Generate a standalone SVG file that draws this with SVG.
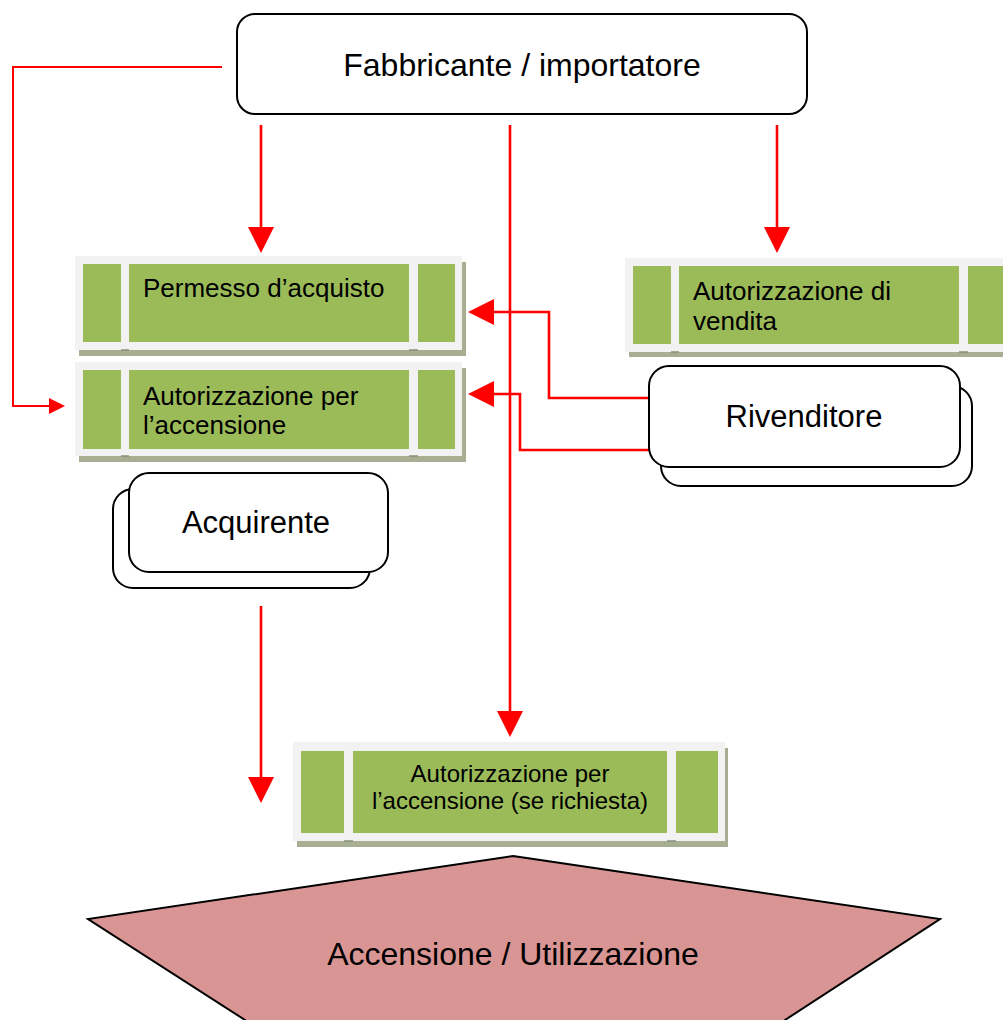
<svg xmlns="http://www.w3.org/2000/svg" width="1003" height="1020" viewBox="0 0 1003 1020">
<style>
.frame{fill:#f2f2f2;}
.shadow{fill:#a8ae91;}
.seg{fill:#9bbb59;}
.tick{stroke:#8a8f78;stroke-width:1.5;}
.rbox{fill:#ffffff;stroke:#000000;stroke-width:2;}
.conn{fill:none;stroke:#ff0000;stroke-width:2.6;}
.t{font-family:"Liberation Sans",Arial,sans-serif;fill:#000000;}
</style>
<defs>
<marker id="ah" markerUnits="userSpaceOnUse" markerWidth="26" markerHeight="26" viewBox="0 0 26 26" refX="16" refY="13" orient="auto">
<path d="M0,0 L26,13 L0,26 Z" fill="#ff0000"/>
</marker>
<marker id="ahs" markerUnits="userSpaceOnUse" markerWidth="16" markerHeight="16" viewBox="0 0 16 16" refX="10" refY="8" orient="auto">
<path d="M0,0 L16,8 L0,16 Z" fill="#ff0000"/>
</marker>
</defs>
<rect width="1003" height="1020" fill="#ffffff"/>

<g id="connectors">
<path class="conn" d="M261,125 V243" marker-end="url(#ah)"/>
<path class="conn" d="M777,125 V243" marker-end="url(#ah)"/>
<path class="conn" d="M510,125 V727" marker-end="url(#ah)"/>
<path class="conn" style="stroke-width:2" d="M222,67 H13 V406 H59" marker-end="url(#ahs)"/>
<path class="conn" d="M649,398 H549 V312 H478" marker-end="url(#ah)"/>
<path class="conn" d="M649,450 H520 V394 H478" marker-end="url(#ah)"/>
<path class="conn" d="M261,606 V793" marker-end="url(#ah)"/>
</g>

<g id="fabbricante">
<rect class="rbox" x="237" y="14" width="570" height="100" rx="18"/>
<text class="t" x="522" y="76" font-size="32" text-anchor="middle">Fabbricante / importatore</text>
</g>

<g id="permesso">
<rect class="shadow" x="79" y="262" width="387" height="94"/>
<rect class="frame" x="75" y="256" width="387" height="94"/>
<rect class="seg" x="83" y="264" width="38" height="78"/>
<rect class="seg" x="129" y="264" width="280" height="78"/>
<rect class="seg" x="418" y="264" width="37" height="78"/>
<line class="tick" x1="121" y1="350" x2="129" y2="350"/>
<line class="tick" x1="409" y1="350" x2="418" y2="350"/>
<text class="t" x="143" y="297" font-size="26">Permesso d’acquisto</text>
</g>

<g id="autorizzazione-accensione">
<rect class="shadow" x="79" y="368" width="387" height="94"/>
<rect class="frame" x="75" y="362" width="387" height="94"/>
<rect class="seg" x="83" y="370" width="38" height="79"/>
<rect class="seg" x="129" y="370" width="280" height="79"/>
<rect class="seg" x="418" y="370" width="37" height="79"/>
<line class="tick" x1="121" y1="456" x2="129" y2="456"/>
<line class="tick" x1="409" y1="456" x2="418" y2="456"/>
<text class="t" x="143" y="405" font-size="26">Autorizzazione per</text>
<text class="t" x="143" y="434" font-size="26">l’accensione</text>
</g>

<g id="autorizzazione-vendita">
<rect class="shadow" x="629" y="264" width="390" height="93"/>
<rect class="frame" x="625" y="258" width="390" height="94"/>
<rect class="seg" x="633" y="266" width="38" height="78"/>
<rect class="seg" x="679" y="266" width="280" height="78"/>
<rect class="seg" x="968" y="266" width="38" height="78"/>
<line class="tick" x1="671" y1="352" x2="679" y2="352"/>
<line class="tick" x1="959" y1="352" x2="968" y2="352"/>
<text class="t" x="693" y="300" font-size="26">Autorizzazione di</text>
<text class="t" x="693" y="330" font-size="26">vendita</text>
</g>

<g id="rivenditore">
<rect class="rbox" x="661" y="386" width="311" height="100" rx="20"/>
<rect class="rbox" x="649" y="366" width="311" height="101" rx="20"/>
<text class="t" x="804" y="427" font-size="31" text-anchor="middle">Rivenditore</text>
</g>

<g id="acquirente">
<rect class="rbox" x="113" y="489" width="257" height="99" rx="20"/>
<rect class="rbox" x="129" y="473" width="259" height="99" rx="20"/>
<text class="t" x="256" y="533" font-size="31" text-anchor="middle">Acquirente</text>
</g>

<g id="autorizzazione-se-richiesta">
<rect class="shadow" x="297" y="748" width="431" height="99"/>
<rect class="frame" x="293" y="742" width="432" height="99"/>
<rect class="seg" x="301" y="751" width="43" height="82"/>
<rect class="seg" x="353" y="751" width="314" height="82"/>
<rect class="seg" x="676" y="751" width="42" height="82"/>
<line class="tick" x1="344" y1="841" x2="353" y2="841"/>
<line class="tick" x1="667" y1="841" x2="676" y2="841"/>
<text class="t" x="510" y="782" font-size="24" text-anchor="middle">Autorizzazione per</text>
<text class="t" x="510" y="809" font-size="24" text-anchor="middle">l’accensione (se richiesta)</text>
</g>

<g id="accensione">
<polygon points="513,856 940,919 785,1020 785,1030 245,1030 245,1020 88,919" fill="#d99594" stroke="#000000" stroke-width="2"/>
<text class="t" x="513" y="965" font-size="32" text-anchor="middle">Accensione / Utilizzazione</text>
</g>
</svg>
